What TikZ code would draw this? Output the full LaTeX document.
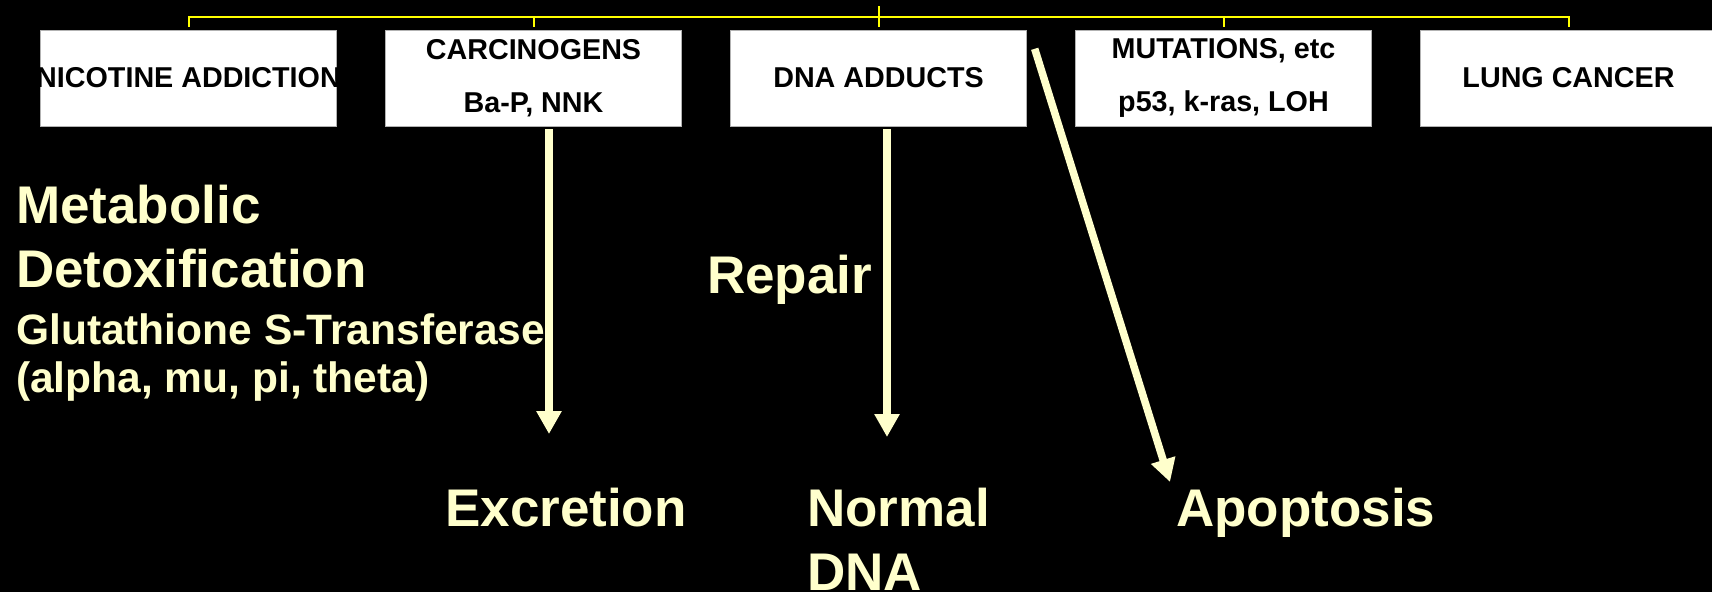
\documentclass[tikz,border=0pt]{standalone}
\usepackage{fontspec}
\setmainfont{Liberation Sans}
\usetikzlibrary{arrows.meta}
\definecolor{paleyellow}{RGB}{255,255,204}
\definecolor{linkyellow}{RGB}{255,255,0}
\tikzset{
    stagebox/.style={draw=gray!60, fill=white, minimum width=296pt, minimum height=96pt, inner sep=0pt},
    boxtext/.style={font=\bfseries\fontsize{28.7}{53}\selectfont, align=center, text=black},
    bigtext/.style={font=\bfseries\fontsize{53}{62}\selectfont, text=paleyellow, anchor=base west, inner sep=0pt},
    midtext/.style={font=\bfseries\fontsize{42.5}{48}\selectfont, text=paleyellow, anchor=base west, inner sep=0pt},
    bracket/.style={draw=linkyellow, line width=2pt},
    flow/.style={draw=paleyellow, line width=7.5pt, -{Triangle[length=23pt,width=24pt]}}
}
\begin{document}
\begin{tikzpicture}[x=1pt,y=-1pt]
        \useasboundingbox (0,0) rectangle (1712,592);
        \fill[black] (0,0) rectangle (1712,592);
        % stages along the top
        \node[stagebox] (nic) at (188.5,78) {};
        \node[boxtext] (nictxt) at (nic) {NICOTINE ADDICTION};
        \node[stagebox] (carc) at (533.5,78) {};
        \node[boxtext] (carctxt) at (carc) {CARCINOGENS\\Ba-P, NNK};
        \node[stagebox] (dna) at (878.5,78) {};
        \node[boxtext] (dnatxt) at (dna) {DNA ADDUCTS};
        \node[stagebox] (mut) at (1223.5,78) {};
        \node[boxtext] (muttxt) at (mut) {MUTATIONS, etc\\p53, k-ras, LOH};
        \node[stagebox] (lung) at (1568.5,78) {};
        \node[boxtext] (lungtxt) at (lung) {LUNG CANCER};
        % yellow bracket
        \draw[bracket] ([yshift=3pt]nic.north) -- ++(0,-10) -| ([yshift=3pt]lung.north);
        \foreach \s in {carc,mut}
            \draw[bracket] ([yshift=3pt]\s.north) -- ++(0,-10);
        \draw[bracket] ([yshift=3pt]dna.north) -- ++(0,-21);
        % side texts
        \node[bigtext] (metab) at (16,223) {Metabolic};
        \node[bigtext] (detox) at (16,287) {Detoxification};
        \node[midtext] (gst) at (16,344) {Glutathione S-Transferase};
        \node[midtext] (gstform) at (16,392) {(alpha, mu, pi, theta)};
        \node[bigtext] (repair) at (707,293) {Repair};
        \node[bigtext] (excr) at (445,526) {Excretion};
        \node[bigtext] (normal) at (807,526) {Normal};
        \node[bigtext] (normdna) at (807,590) {DNA};
        \node[bigtext] (apop) at (1176,526) {Apoptosis};
        % arrows
        \coordinate (excend) at (549,434);
        \coordinate (normend) at (887,437);
        \coordinate (apopend) at (1170,482);
        \draw[flow] ([xshift=15.5pt,yshift=-3pt]carc.south) -- (excend);
        \draw[flow] ([xshift=8.5pt,yshift=-3pt]dna.south) -- (normend);
        \draw[flow] ([xshift=8pt,yshift=-19pt]dna.north east) -- (apopend);
\end{tikzpicture}
\end{document}
